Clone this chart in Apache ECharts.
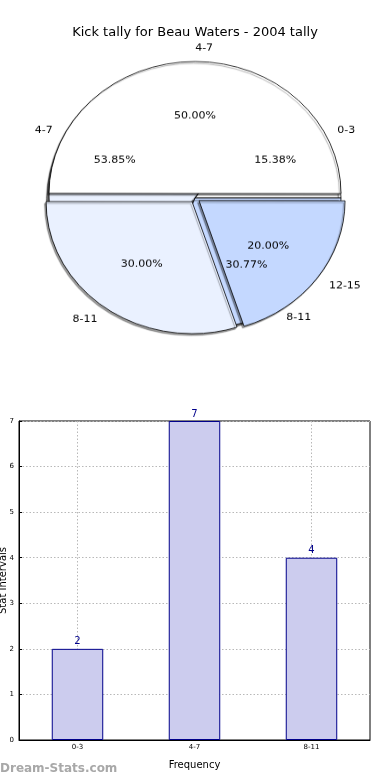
<!DOCTYPE html>
<html><head><meta charset="utf-8">
<script src="https://cdn.jsdelivr.net/npm/echarts@6/dist/echarts.min.js"></script>
<style>
html,body{margin:0;padding:0;background:#fff}
#wrap{position:relative;width:390px;height:780px}
#c{position:absolute;left:0;top:0;width:390px;height:780px}
#p{position:absolute;left:0;top:0;width:390px;height:400px;transform:scaleY(0.904);transform-origin:195px 198px;pointer-events:none}
</style>
</head><body><div id="wrap"><div id="c"></div><div id="p"></div></div>
<script>
var titleText = 'Kick tally for Beau Waters - 2004 tally';
var pieANames = ['4-7', '8-11', '12-15'];
var pieAValues = [50, 30, 20];
var pieBNames = ['0-3', '4-7', '8-11'];
var pieBValues = [2, 7, 4];
var barCategories = ['0-3', '4-7', '8-11'];
var barValues = [2, 7, 4];

var sliceColors = ['#ffffff', '#eaf1ff', '#c4d8ff'];
var center = [195, 198];
var R = 146;
var FONT = 'DejaVu Sans';

function pctFmt(p) { return p.percent.toFixed(2) + '%'; }

function slicePie(names, vals, extra) {
  var s = {
    type: 'pie', center: center, radius: [0, R], startAngle: 0, clockwise: false,
    animation: false, silent: true, avoidLabelOverlap: false,
    label: {
      show: true, position: 'outside', formatter: '{b}', color: '#000', fontSize: 11,
      fontFamily: FONT, distanceToLabelLine: 0, alignTo: 'none'
    },
    labelLine: { show: false, length: 0.1 * R, length2: 0 },
    itemStyle: { borderColor: '#000', borderWidth: 0.8 },
    data: names.map(function (n, i) {
      var d = { name: n, value: vals[i], itemStyle: { color: sliceColors[i] } };
      if (extra.selectAll) d.selected = true;
      return d;
    })
  };
  for (var k in extra) if (k !== 'selectAll') s[k] = extra[k];
  return s;
}
function pctPie(names, vals, start, z) {
  return {
    type: 'pie', center: center, radius: [0, 1.2 * R], startAngle: start, clockwise: false,
    animation: false, silent: true, avoidLabelOverlap: false,
    itemStyle: { color: 'rgba(0,0,0,0)', borderWidth: 0 },
    label: { show: true, position: 'inside', color: '#000', fontSize: 11, fontFamily: FONT, formatter: pctFmt },
    labelLine: { show: false },
    data: names.map(function (n, i) { return { name: n, value: vals[i] }; }),
    z: z
  };
}

var pie = echarts.init(document.getElementById('p'), null, { renderer: 'canvas' });
pie.setOption({
  animation: false,
  series: [
    slicePie(pieBNames, pieBValues, {
      itemStyle: { borderColor: '#000', borderWidth: 0.8, shadowColor: 'rgba(0,0,0,0.6)', shadowBlur: 1, shadowOffsetX: -2.5, shadowOffsetY: 2.8 },
      z: 1
    }),
    slicePie(pieANames, pieAValues, {
      selectAll: true, selectedMode: 'multiple', selectedOffset: 5, startAngle: -0.05,
      itemStyle: { borderColor: '#000', borderWidth: 0.8, shadowColor: 'rgba(0,0,0,0.4)', shadowBlur: 1, shadowOffsetX: -1.5, shadowOffsetY: 2 },
      z: 2
    }),
    pctPie(pieBNames, pieBValues, 0, 5),
    pctPie(pieANames, pieAValues, -0.05, 5)
  ]
});

var chart = echarts.init(document.getElementById('c'), null, { renderer: 'canvas' });
chart.setOption({
  backgroundColor: '#fff',
  animation: false,
  title: { text: titleText, left: 'center', top: 21, textStyle: { fontSize: 13, fontWeight: 'normal', color: '#000', fontFamily: FONT } },
  graphic: [{ type: 'text', left: 0, top: 763, style: { text: 'Dream-Stats.com', fill: '#a8a8a8', fontSize: 12, fontWeight: 'bold', fontFamily: FONT } }],
  grid: { left: 19, right: 20, top: 421, height: 319, show: true, borderColor: '#000', borderWidth: 1, containLabel: false, outerBoundsMode: 'none' },
  xAxis: [{
    type: 'category', data: barCategories, boundaryGap: true,
    name: 'Frequency', nameLocation: 'middle', nameGap: 20,
    nameTextStyle: { fontSize: 10, color: '#000', fontFamily: FONT },
    axisLine: { lineStyle: { color: '#000' } }, axisTick: { show: false },
    axisLabel: { fontSize: 7, color: '#000', margin: 4, fontFamily: FONT },
    splitLine: { show: false }
  }, {
    type: 'category', data: ['', '', '', '', '', '', ''], boundaryGap: false, position: 'bottom',
    axisLine: { show: false }, axisTick: { show: false }, axisLabel: { show: false },
    splitLine: { show: true, interval: function (i) { return i % 2 === 1; }, lineStyle: { color: '#b8b8b8', type: [1.5, 2], width: 1 } }
  }],
  yAxis: {
    type: 'value', min: 0, max: 7, interval: 1,
    name: 'Stat Intervals', nameLocation: 'middle', nameGap: 11, nameMoveOverlap: false,
    nameTextStyle: { fontSize: 10, color: '#000', fontFamily: FONT },
    axisLine: { show: true, lineStyle: { color: '#000' } },
    axisTick: { show: true, inside: true, length: 3, lineStyle: { color: '#000' } },
    axisLabel: { fontSize: 7, color: '#000', margin: 5, fontFamily: FONT },
    splitLine: { show: true, lineStyle: { color: '#b8b8b8', type: [1.5, 2], width: 1 } }
  },
  series: [{
    type: 'bar', xAxisIndex: 0, yAxisIndex: 0, data: barValues, barWidth: '44%',
    itemStyle: { color: '#ccccee', borderColor: '#00008b', borderWidth: 1 },
    label: { show: true, position: 'top', distance: 2, color: '#00008b', fontSize: 10, fontFamily: FONT },
    z: 3
  }]
});
</script></body></html>
